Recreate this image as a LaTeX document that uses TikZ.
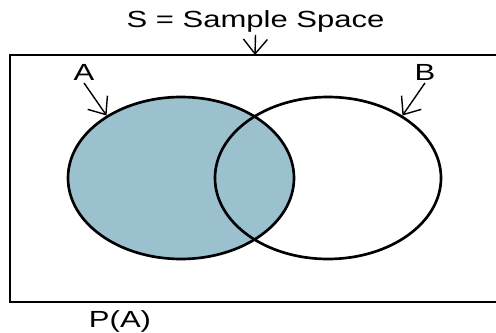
\documentclass[tikz,border=0pt]{standalone}
\usepackage{fontspec}
\setmainfont{Liberation Sans}
\usetikzlibrary{arrows.meta,shapes.geometric}
\definecolor{setfill}{RGB}{155,193,207}

\begin{document}
\begin{tikzpicture}[x=0.75pt,y=-0.75pt,
                    set/.style={ellipse,draw,line width=2pt,inner sep=0pt,
                                minimum width=169.5pt,minimum height=121.5pt},
                    word/.style={font=\fontsize{17.5}{20}\selectfont,xscale=1.33,
                                 inner sep=2pt,anchor=base},
                    pointer/.style={-{Straight Barb[length=11pt,width=18pt]},line width=1.05pt}]
  \useasboundingbox (0,0) rectangle (496,332);
  \clip (0,0) rectangle (496,332);
  % sample space: the box runs off the right edge
  \draw[line width=2pt] (10,55) rectangle (520,302);
  \coordinate (top) at (255,55);
  % the two events, A shaded
  \node[set,fill=setfill] (a) at (181,178) {};
  \node[set] (b) at (328,178) {};
  \node[word] (title) at (255.5,27) {S = Sample Space};
  \node[word] (la) at (84,80) {A};
  \node[word] (lb) at (425,80) {B};
  \node[word] (pa) at (120,327) {P(A)};
  \draw[pointer] (title.south) -- (top);
  \draw[pointer] (la.south) -- (a.140);
  \draw[pointer] (lb.south) -- (b.40);
\end{tikzpicture}
\end{document}
